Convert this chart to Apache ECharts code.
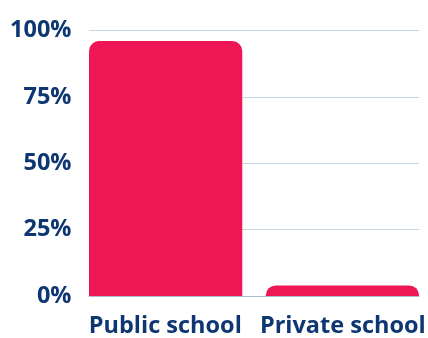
<!DOCTYPE html>
<html>
<head>
<meta charset="utf-8">
<script src="https://cdn.jsdelivr.net/npm/echarts@6/dist/echarts.min.js"></script>
<style>
  html, body { margin: 0; padding: 0; background: #ffffff; }
  #chart { width: 428px; height: 338px; }
</style>
</head>
<body>
<div id="chart"></div>
<script>
// School type share (percent of students)
const categories = ['Public school', 'Private school'];
const shares = [96, 4];
const yTicks = { min: 0, max: 100, step: 25 };

const navy = '#0d3673';
const barColor = '#ef1656';
const fontFamily = '"Open Sans", Lato, sans-serif';

// Each category gets its own series so the bars can sit flush with the plot edges.
const seriesData = categories.map((_, i) => shares.map((v, j) => (i === j ? v : '-')));

const chart = echarts.init(document.getElementById('chart'), null, { renderer: 'canvas' });
chart.setOption({
  animation: false,
  grid: { left: 89, right: 6, top: 30.5, bottom: 40 },
  xAxis: {
    type: 'category',
    data: [
      { value: categories[0], textStyle: { padding: [0, 12.5, 0, 0] } },
      { value: categories[1], textStyle: { padding: [0, 0, 0, 12.5] } }
    ],
    axisTick: { show: false },
    axisLine: { show: true, lineStyle: { color: '#a9bdd6', width: 1 } },
    axisLabel: {
      interval: 0,
      color: navy,
      fontFamily: fontFamily,
      fontWeight: 'bold',
      fontSize: 23.5,
      margin: 18
    }
  },
  yAxis: {
    type: 'value',
    min: yTicks.min,
    max: yTicks.max,
    interval: yTicks.step,
    axisLine: { show: false },
    axisTick: { show: false },
    splitLine: { lineStyle: { color: '#c8d5e5', width: 1 } },
    axisLabel: {
      formatter: '{value}%',
      color: navy,
      fontFamily: fontFamily,
      fontWeight: 'bold',
      fontSize: 23.5,
      margin: 17.5
    }
  },
  series: seriesData.map(d => ({
    type: 'bar',
    data: d,
    barWidth: 154,
    barGap: '-91.9%',
    itemStyle: { color: barColor, borderRadius: [10, 10, 0, 0] }
  }))
});
</script>
</body>
</html>
